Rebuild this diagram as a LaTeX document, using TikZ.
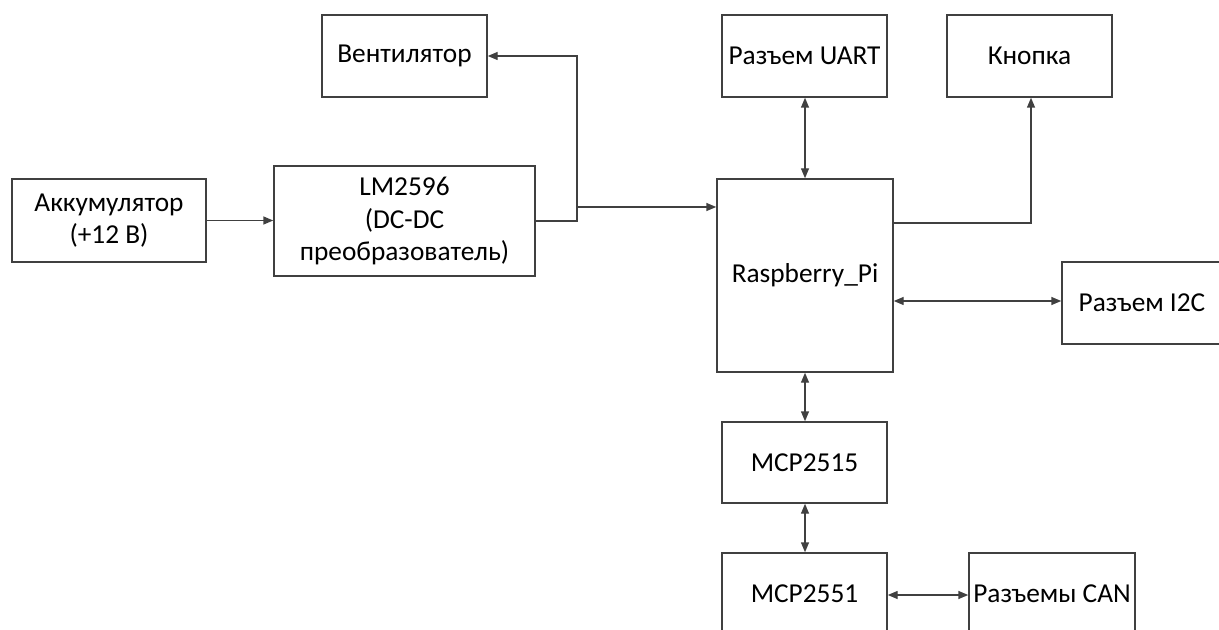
\documentclass[tikz,border=0pt]{standalone}
\usepackage{fontspec}
\setmainfont{Carlito}
\usetikzlibrary{arrows.meta}

\tikzset{every picture/.style={line width=0.75pt}}
\tikzset{
  blok/.style={draw=black!75, line width=1.1pt, align=center, inner sep=0pt,
    font=\fontsize{20.5}{24.5}\selectfont},
  strel/.style={draw=black!75, line width=1.1pt, -{Triangle[length=7.5pt,width=6pt]}},
  dvstrel/.style={draw=black!75, line width=1.1pt, {Triangle[length=7.5pt,width=6pt]}-{Triangle[length=7.5pt,width=6pt]}}
}

\begin{document}
\begin{tikzpicture}[x=0.75pt,y=0.75pt,yscale=-1,xscale=1]

\useasboundingbox (0,0) rectangle (1219,630);

\node [blok, minimum width=165*0.75pt, minimum height=82*0.75pt] (vent) at (404.5,56) {Вентилятор};
\node [blok, minimum width=194*0.75pt, minimum height=83*0.75pt] (akk) at (109,220.5) {Аккумулятор\\(+12 В)};
\node [blok, minimum width=261*0.75pt, minimum height=110*0.75pt] (lm) at (404.5,221) {LM2596\\(DC-DC\\преобразователь)};
\node [blok, minimum width=176*0.75pt, minimum height=193*0.75pt] (rpi) at (805,275.5) {\raisebox{4pt}{Raspberry\_Pi}};
\node [blok, minimum width=165*0.75pt, minimum height=82*0.75pt] (uart) at (804.5,56) {Разъем UART};
\node [blok, minimum width=165*0.75pt, minimum height=82*0.75pt] (knop) at (1029.5,56) {Кнопка};
\node [blok, minimum width=160*0.75pt, minimum height=82*0.75pt] (i2c) at (1142,303) {Разъем I2C};
\node [blok, minimum width=165*0.75pt, minimum height=81*0.75pt] (mcpa) at (804.5,462.5) {MCP2515};
\node [blok, minimum width=165*0.75pt, minimum height=82*0.75pt] (mcpb) at (804.5,594) {MCP2551};
\node [blok, minimum width=166*0.75pt, minimum height=82*0.75pt] (can) at (1052,594) {Разъемы CAN};

% питание
\coordinate (razv) at (577,221);
\coordinate (razvv) at (577,207);
\draw [strel] (akk.east) -- (lm.west |- akk.east);
\draw [strel] (lm.east |- razv) -- (razv) -- (razv |- vent.east) -- (vent.east);
\draw [strel] (razvv) -- (rpi.west |- razvv);

% связи Raspberry_Pi
\coordinate (knopl) at (1031,223);
\coordinate (i2cl) at (1000,301);
\draw [dvstrel] (uart.south -| 805,0) -- (rpi.north -| 805,0);
\draw [strel] (rpi.east |- knopl) -- (knopl) -- (knopl |- knop.south);
\draw [dvstrel] (rpi.east |- i2cl) -- (i2c.west |- i2cl);
\draw [dvstrel] (rpi.south -| 805,0) -- (mcpa.north -| 805,0);
\draw [dvstrel] (mcpa.south -| 805,0) -- (mcpb.north -| 805,0);
\draw [dvstrel] (mcpb.east |- 0,595) -- (can.west |- 0,595);

\end{tikzpicture}
\end{document}
